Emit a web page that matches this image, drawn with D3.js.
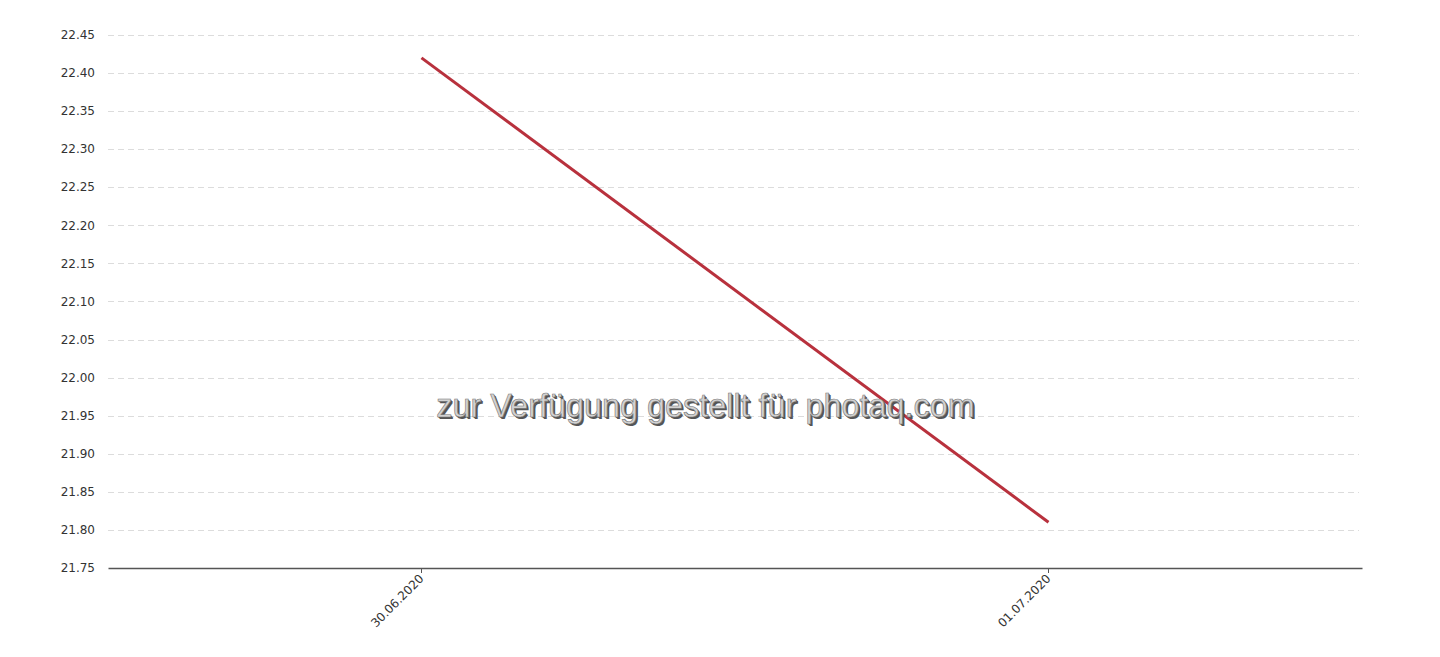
<!DOCTYPE html>
<html><head><meta charset="utf-8">
<script src="https://cdn.jsdelivr.net/npm/d3@7"></script>
<style>html,body{margin:0;padding:0;background:#fff;}svg{display:block;}</style>
</head><body>
<svg id="chart" width="1440" height="657"></svg>
<script>
const dates = ["30.06.2020", "01.07.2020"];
const prices = [22.42, 21.81];
const yTicks = [21.75, 21.80, 21.85, 21.90, 21.95, 22.00, 22.05, 22.10, 22.15, 22.20, 22.25, 22.30, 22.35, 22.40, 22.45];
const watermark = "zur Verfügung gestellt für photaq.com";

(function () {
const svg = d3.select("#chart");
const mLeft = 108, mRight = 1362, mTop = 35, mBottom = 568;

const x = d3.scaleBand().domain(dates).range([mLeft, mRight]);
const y = d3.scaleLinear().domain([21.75, 22.45]).range([mBottom, mTop]);

// grid
svg.append("g").selectAll("line").data(yTicks.slice(1)).join("line")
  .attr("x1", mLeft).attr("x2", 1359)
  .attr("y1", d => Math.round(y(d)) + 0.5).attr("y2", d => Math.round(y(d)) + 0.5)
  .attr("stroke", "#dcdcdc").attr("stroke-width", 1).attr("stroke-dasharray", "6,4");

// y labels
svg.append("g").selectAll("text").data(yTicks).join("text")
  .attr("x", 95).attr("y", d => y(d)).attr("dy", "0.35em")
  .attr("text-anchor", "end")
  .attr("font-family", "DejaVu Sans, Verdana, sans-serif").attr("font-size", 12)
  .attr("fill", "#333").text(d => d.toFixed(2));

// x axis
const xAxis = svg.append("g").attr("transform", `translate(0,${mBottom})`)
  .call(d3.axisBottom(x).tickSize(5).tickSizeOuter(0));
xAxis.select(".domain").attr("stroke", "#555").attr("stroke-width", 1.5);
xAxis.selectAll(".tick line").attr("stroke", "#555");
xAxis.selectAll(".tick text")
  .attr("font-family", "DejaVu Sans, Verdana, sans-serif").attr("font-size", 12)
  .attr("fill", "#333")
  .attr("text-anchor", "end")
  .attr("transform", "rotate(-45)")
  .attr("x", -6).attr("y", 6).attr("dy", "0.35em");

// line
const line = d3.line().x((d, i) => x(dates[i]) + x.bandwidth() / 2).y(d => y(d));
svg.append("path").datum(prices)
  .attr("d", line).attr("fill", "none")
  .attr("stroke", "#b8313d").attr("stroke-width", 3);

// watermark
const wm = svg.append("g").attr("font-family", "Liberation Sans, Arial, sans-serif")
  .attr("font-size", 32.4).attr("text-anchor", "middle");
wm.append("text").attr("x", 707.5).attr("y", 418.5).attr("fill", "#555").text(watermark);
wm.append("text").attr("x", 706.5).attr("y", 417.5).attr("fill", "#555").text(watermark);
wm.append("text").attr("x", 705.5).attr("y", 416.5).attr("fill", "#d2d2d2")
  .attr("stroke", "#777").attr("stroke-width", 0.6).text(watermark);
})();
</script>
</body></html>
